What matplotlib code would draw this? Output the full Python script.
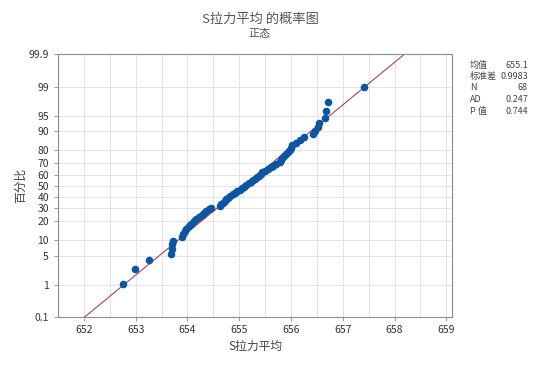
import matplotlib
matplotlib.use("Agg")
import matplotlib.pyplot as plt
import numpy as np
from statistics import NormalDist

plt.rcParams['font.family'] = ['Noto Sans CJK SC', 'DejaVu Sans']

# sorted sample values
values = [
    652.75, 652.99, 653.26, 653.69, 653.70, 653.71, 653.72, 653.90, 653.92, 653.95,
    653.97, 654.03, 654.07, 654.13, 654.16, 654.22, 654.28, 654.32, 654.35, 654.41,
    654.46, 654.62, 654.64, 654.69, 654.73, 654.75, 654.79, 654.83, 654.88, 654.92,
    654.96, 655.02, 655.06, 655.09, 655.13, 655.19, 655.23, 655.26, 655.30, 655.34,
    655.38, 655.42, 655.45, 655.49, 655.55, 655.61, 655.66, 655.72, 655.78, 655.81,
    655.83, 655.87, 655.91, 655.95, 655.98, 656.00, 656.02, 656.10, 656.17, 656.26,
    656.42, 656.47, 656.52, 656.55, 656.66, 656.67, 656.71, 657.42,
]
mean = 655.1
std = 0.9983
stat_names = ["均值", "标准差", "N", "AD", "P 值"]
stat_values = ["655.1", "0.9983", "68", "0.247", "0.744"]

y_ticks = [0.1, 1, 5, 10, 20, 30, 40, 50, 60, 70, 80, 90, 95, 99, 99.9]
x_ticks = [652, 653, 654, 655, 656, 657, 658, 659]

nd = NormalDist()
n = len(values)
# median ranks, as minitab does
probs = [(i - 0.3) / (n + 0.4) for i in range(1, n + 1)]
z = np.array([nd.inv_cdf(p) for p in probs])

fig = plt.figure(figsize=(5.48, 3.65), dpi=100)
ax = fig.add_axes([0.1058, 0.1315, 0.7190, 0.7192])

zlo, zhi = nd.inv_cdf(0.001), nd.inv_cdf(0.999)
ax.plot([mean + std * zlo, mean + std * zhi], [zlo, zhi], color="#a8454f", lw=0.8, zorder=2)
ax.scatter(values, z, s=30, color="#0b56a4", zorder=3, linewidths=0)

ax.set_ylim(zlo, zhi)
ax.set_xlim(651.62, 659.11)
ax.set_yticks([nd.inv_cdf(p / 100) for p in y_ticks])
ax.set_yticklabels([str(p) for p in y_ticks])
ax.set_xticks(x_ticks)
ax.set_xticks(np.arange(651.5, 659.2, 0.5), minor=True)
ax.tick_params(axis="x", which="minor", length=0)
ax.tick_params(axis="both", which="major", labelsize=7.5, colors="#888888", labelcolor="#333333", length=3, width=0.6)
ax.tick_params(axis="x", pad=3)
ax.grid(True, which="both", axis="x", color="#e3e3e3", lw=0.7, zorder=0)
ax.grid(True, which="major", axis="y", color="#e3e3e3", lw=0.7, zorder=0)
for s in ax.spines.values():
    s.set_color("#8c8c8c")
    s.set_linewidth(0.8)

ax.set_xlabel("S拉力平均", fontsize=8.5, color="#444444", labelpad=3)
ax.set_ylabel("百分比", fontsize=8.5, color="#444444", labelpad=1)

fig.text(0.475, 0.948, "S拉力平均 的概率图", ha="center", va="center", fontsize=9.5, color="#555555")
fig.text(0.473, 0.907, "正态", ha="center", va="center", fontsize=8, color="#555555")

for k, (nm, v) in enumerate(zip(stat_names, stat_values)):
    yy = 1 - (65 + k * 11.5) / 365
    fig.text(470 / 548, yy, nm, ha="left", va="center", fontsize=6.5, color="#444444")
    fig.text(528 / 548, yy, v, ha="right", va="center", fontsize=6.5, color="#444444")

fig.savefig("out.png", dpi=100)
